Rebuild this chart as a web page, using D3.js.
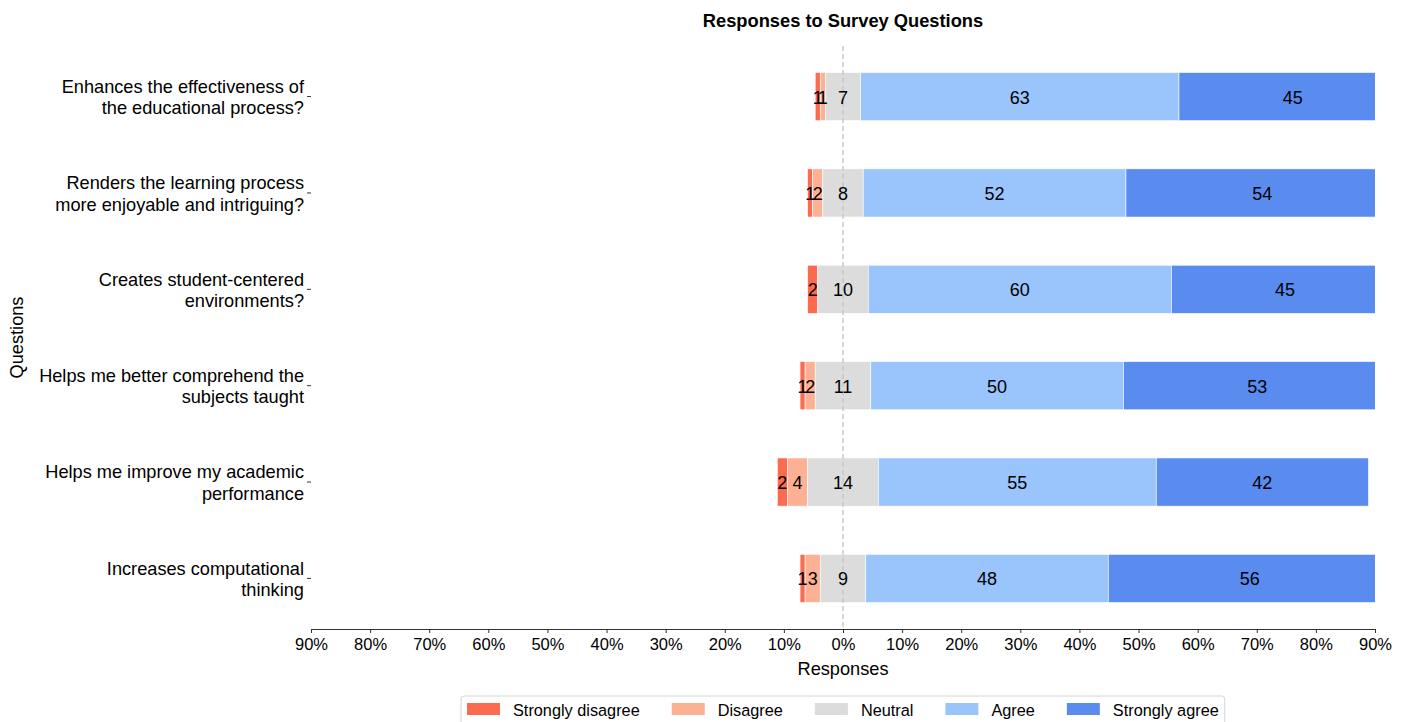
<!DOCTYPE html>
<html><head><meta charset="utf-8">
<script src="https://cdn.jsdelivr.net/npm/d3@7"></script>
<style>
body{margin:0;background:#fff;}
svg{font-family:"Liberation Sans",Arial,sans-serif;}
</style></head>
<body><svg id="chart" width="1408" height="722"></svg>
<script>
const questions = [
  "Enhances the effectiveness of\nthe educational process?",
  "Renders the learning process\nmore enjoyable and intriguing?",
  "Creates student-centered\nenvironments?",
  "Helps me better comprehend the\nsubjects taught",
  "Helps me improve my academic\nperformance",
  "Increases computational\nthinking"
];
const categories = ["Strongly disagree","Disagree","Neutral","Agree","Strongly agree"];
const stronglyDisagree = [1,1,2,1,2,1];
const disagree        = [1,2,0,2,4,3];
const neutral         = [7,8,10,11,14,9];
const agree           = [63,52,60,50,55,48];
const stronglyAgree   = [45,54,45,53,42,56];
const colors = ["#fc6a50","#fdb194","#dcdcdc","#9ac4fc","#5a8cf0"];
const xTicks = [-90,-80,-70,-60,-50,-40,-30,-20,-10,0,10,20,30,40,50,60,70,80,90];

const series = [stronglyDisagree, disagree, neutral, agree, stronglyAgree];
const rows = questions.map((q,i)=>{
  const counts = series.map(s=>s[i]);
  const total = d3.sum(counts);
  const pct = counts.map(c=>c/total*100);
  let start = -(pct[0]+pct[1]+pct[2]/2);
  const segs = pct.map((p,k)=>{const s={q,k,count:counts[k],x0:start,x1:start+p}; start+=p; return s;});
  return {q,segs};
});

const svg = d3.select("#chart");
const L=311,R=1375,T=46,B=629;
const x = d3.scaleLinear().domain([-90,90]).range([L,R]);
const y = d3.scaleBand().domain(questions).range([T,B]).paddingInner(0.5).paddingOuter(0.275);

svg.append("defs").append("clipPath").attr("id","clip")
  .append("rect").attr("x",L).attr("y",T).attr("width",R-L).attr("height",B-T);

const g = svg.append("g").attr("clip-path","url(#clip)");
rows.forEach(r=>{
  g.selectAll(null).data(r.segs).enter().append("rect")
    .attr("x",d=>x(d.x0)).attr("width",d=>x(d.x1)-x(d.x0))
    .attr("y",y(r.q)).attr("height",y.bandwidth())
    .attr("fill",d=>colors[d.k]).attr("stroke","#fff").attr("stroke-width",0.6);
});

// zero line
svg.append("line").attr("x1",x(0)).attr("x2",x(0)).attr("y1",T).attr("y2",B)
  .attr("stroke","#c4c4c4").attr("stroke-width",1.3).attr("stroke-dasharray","5,3");

// labels
rows.forEach(r=>{
  svg.selectAll(null).data(r.segs.filter(d=>d.count>0)).enter().append("text")
    .attr("x",d=>x((d.x0+d.x1)/2)).attr("y",y(r.q)+y.bandwidth()/2+1)
    .attr("text-anchor","middle").attr("dominant-baseline","central")
    .attr("font-size",18).attr("fill","#000").text(d=>d.count);
});

// x axis
const xAxis = svg.append("g").attr("transform",`translate(0,${B})`)
  .call(d3.axisBottom(x).tickValues(xTicks).tickFormat(d=>Math.abs(d)+"%").tickSizeOuter(0).tickSize(4));
xAxis.select(".domain").attr("stroke","#333");
xAxis.selectAll(".tick line").attr("stroke","#333");
xAxis.selectAll(".tick text").attr("font-size",16.5).attr("fill","#000").attr("font-family","Liberation Sans, Arial").attr("dy","0.85em");

// y axis ticks and labels
const yg = svg.append("g");
questions.forEach(q=>{
  const cy = y(q)+y.bandwidth()/2;
  yg.append("line").attr("x1",L-4).attr("x2",L).attr("y1",cy).attr("y2",cy).attr("stroke","#333");
  const lines = q.split("\n");
  const t = yg.append("text").attr("text-anchor","end").attr("font-size",18.2).attr("fill","#000");
  lines.forEach((ln,i)=>{
    t.append("tspan").attr("x",L-7).attr("y",cy + 1 + (i-(lines.length-1)/2)*21.5).attr("dominant-baseline","central").text(ln);
  });
});

// titles
svg.append("text").attr("x",x(0)).attr("y",20).attr("text-anchor","middle").attr("dominant-baseline","central")
  .attr("font-size",18.3).attr("font-weight","bold").text("Responses to Survey Questions");
svg.append("text").attr("x",x(0)).attr("y",669).attr("text-anchor","middle").attr("dominant-baseline","central")
  .attr("font-size",18.2).text("Responses");
svg.append("text").attr("transform",`translate(17,${(T+B)/2}) rotate(-90)`).attr("text-anchor","middle").attr("dominant-baseline","central")
  .attr("font-size",18.2).text("Questions");

// legend
const lg = svg.append("g");
const box = lg.append("rect").attr("x",461).attr("y",696).attr("width",765).attr("height",40)
  .attr("fill","#fff").attr("stroke","#d6d6d6").attr("rx",3);
let lx = 467, lastEnd = 0;
categories.forEach((c,i)=>{
  lg.append("rect").attr("x",lx).attr("y",703).attr("width",33).attr("height",12).attr("fill",colors[i]);
  const t = lg.append("text").attr("x",lx+46).attr("y",710).attr("dominant-baseline","central").attr("font-size",16.3).text(c);
  lastEnd = lx + 46 + t.node().getComputedTextLength();
  lx = lastEnd + 32;
});
box.attr("width", lastEnd + 6 - 461);
</script></body></html>
